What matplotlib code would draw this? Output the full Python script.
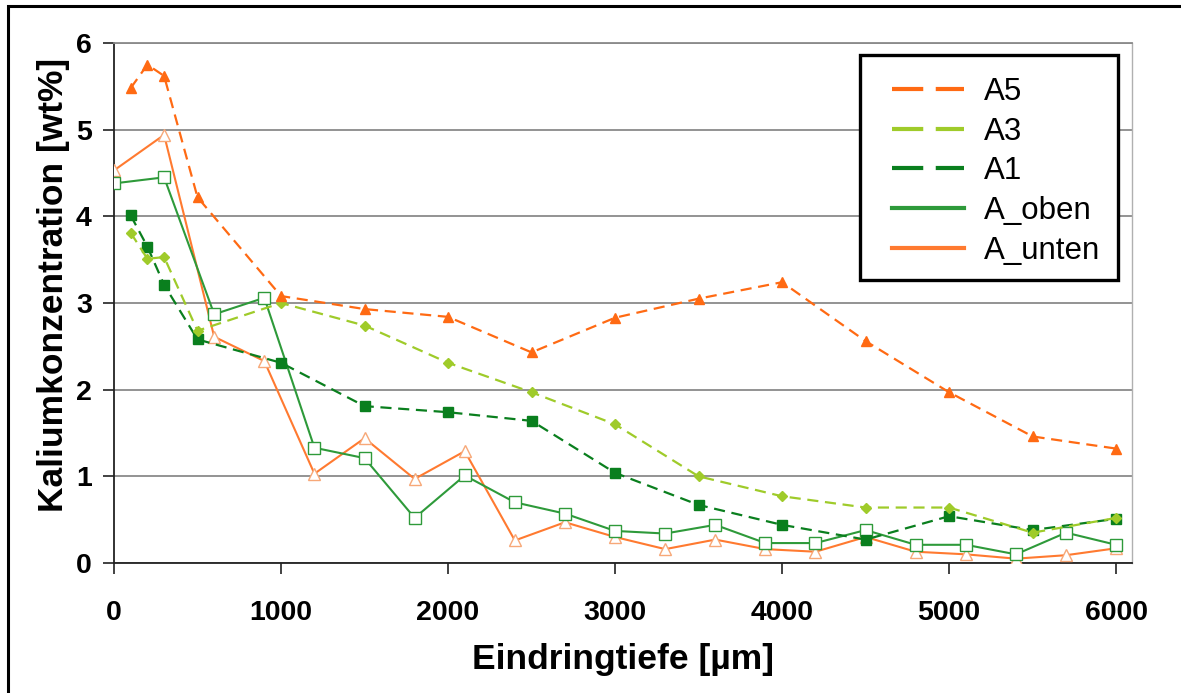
import matplotlib
matplotlib.use("Agg")
import matplotlib.pyplot as plt
from matplotlib.lines import Line2D
from matplotlib.patches import Rectangle

# ---- data ----
x_a = [100, 200, 300, 500, 1000, 1500, 2000, 2500, 3000, 3500, 4000, 4500, 5000, 5500, 6000]
a5 = [5.48, 5.75, 5.62, 4.22, 3.08, 2.93, 2.84, 2.43, 2.83, 3.05, 3.24, 2.56, 1.97, 1.46, 1.32]
a3 = [3.81, 3.51, 3.53, 2.68, 3.00, 2.74, 2.31, 1.97, 1.60, 1.00, 0.77, 0.64, 0.64, 0.35, 0.52]
a1 = [4.01, 3.65, 3.21, 2.58, 2.31, 1.81, 1.74, 1.64, 1.04, 0.67, 0.44, 0.27, 0.54, 0.38, 0.51]

x_ou = [0, 300, 600, 900, 1200, 1500, 1800, 2100, 2400, 2700, 3000, 3300, 3600, 3900,
        4200, 4500, 4800, 5100, 5400, 5700, 6000]
a_oben = [4.38, 4.45, 2.87, 3.06, 1.33, 1.21, 0.52, 1.01, 0.70, 0.57, 0.37, 0.34, 0.44, 0.23,
          0.23, 0.38, 0.21, 0.21, 0.10, 0.35, 0.21]
a_unten = [4.53, 4.94, 2.61, 2.33, 1.03, 1.44, 0.97, 1.29, 0.26, 0.47, 0.30, 0.16, 0.27, 0.16,
           0.13, 0.30, 0.13, 0.10, 0.05, 0.09, 0.17]

series_names = ["A5", "A3", "A1", "A_oben", "A_unten"]
x_ticks = [0, 1000, 2000, 3000, 4000, 5000, 6000]
y_ticks = [0, 1, 2, 3, 4, 5, 6]
x_label = "Eindringtiefe [µm]"
y_label = "Kaliumkonzentration [wt%]"

c_a5 = "#FF6A13"
c_a3 = "#9FCB2A"
c_a1 = "#0A7F1E"
c_oben = "#2E9A3A"
c_unten = "#FF7A30"

plt.rcParams['font.family'] = ['Liberation Sans', 'DejaVu Sans']

W, H = 1181, 693
fig = plt.figure(figsize=(W / 100, H / 100), dpi=100)
ax = fig.add_axes([114 / W, 1 - 563 / H, (1132 - 114) / W, (563 - 43) / H])

dash = (0, (5, 3))
ax.plot(x_ou, a_unten, color=c_unten, lw=1.5, marker='^', ms=8, mfc='white',
        mec='#F7A878', mew=1.0, zorder=3)
ax.plot(x_ou, a_oben, color=c_oben, lw=1.5, marker='s', ms=8, mfc='white',
        mec=c_oben, mew=1.0, zorder=3)
ax.plot(x_a, a1, color=c_a1, lw=1.6, ls=dash, marker='s', ms=6.5, mfc=c_a1, mec=c_a1, zorder=4)
ax.plot(x_a, a3, color=c_a3, lw=1.6, ls=dash, marker='D', ms=5, mfc=c_a3, mec=c_a3, zorder=4)
ax.plot(x_a, a5, color=c_a5, lw=1.6, ls=dash, marker='^', ms=7.5, mfc=c_a5, mec=c_a5, zorder=4)

ax.set_xlim(0, 6095)
ax.set_ylim(0, 6)
ax.set_xticks(x_ticks)
ax.set_yticks(y_ticks)
ax.set_xticklabels([str(v) for v in x_ticks], fontsize=20.5, fontweight='bold')
ax.set_yticklabels([str(v) for v in y_ticks], fontsize=20.5, fontweight='bold')
ax.tick_params(axis='x', direction='out', length=8, width=1.2, pad=19, colors='#222222')
ax.tick_params(axis='y', direction='out', length=8, width=1.2, pad=8, colors='#222222')
for lab in ax.get_xticklabels() + ax.get_yticklabels():
    lab.set_color('black')

ax.yaxis.grid(True, color='#8a8a8a', lw=1.3)
ax.set_axisbelow(True)
ax.spines['left'].set_color('#222222')
ax.spines['left'].set_linewidth(1.3)
ax.spines['bottom'].set_color('#222222')
ax.spines['bottom'].set_linewidth(1.3)
ax.spines['top'].set_color('#8a8a8a')
ax.spines['top'].set_linewidth(1.3)
ax.spines['right'].set_color('#b0b0b0')
ax.spines['right'].set_linewidth(1.0)

ax.set_xlabel(x_label, fontsize=25.5, fontweight='bold', labelpad=12)
ax.set_ylabel(y_label, fontsize=25.5, fontweight='bold')
ax.yaxis.set_label_coords(-0.043, 0.535)

# legend box (drawn on the figure, above the axes)
fig.patches.append(Rectangle((860 / W, 1 - 280 / H), (1118 - 860) / W, (280 - 55) / H,
                             transform=fig.transFigure, facecolor='white',
                             edgecolor='black', lw=2.4, zorder=2))
lh = [
    Line2D([], [], color=c_a5, lw=3, ls=(0, (7.5, 3))),
    Line2D([], [], color=c_a3, lw=3, ls=(0, (7.5, 3))),
    Line2D([], [], color=c_a1, lw=3, ls=(0, (7.5, 3))),
    Line2D([], [], color=c_oben, lw=3),
    Line2D([], [], color=c_unten, lw=3),
]
leg = fig.legend(lh, series_names, loc='upper left', bbox_to_anchor=(892 / W, 1 - 77 / H),
                 fontsize=22.5, frameon=False, handlelength=2.3, handletextpad=0.65,
                 labelspacing=0.31, borderpad=0, borderaxespad=0)
leg.set_zorder(5)

# outer border (left and top visible)
fig.patches.append(Rectangle((8 / W, -0.05), 1.1, (1 - 6 / H) + 0.05, transform=fig.transFigure,
                             fill=False, edgecolor='black', lw=2.2, zorder=6))

fig.savefig("out.png", dpi=100)
